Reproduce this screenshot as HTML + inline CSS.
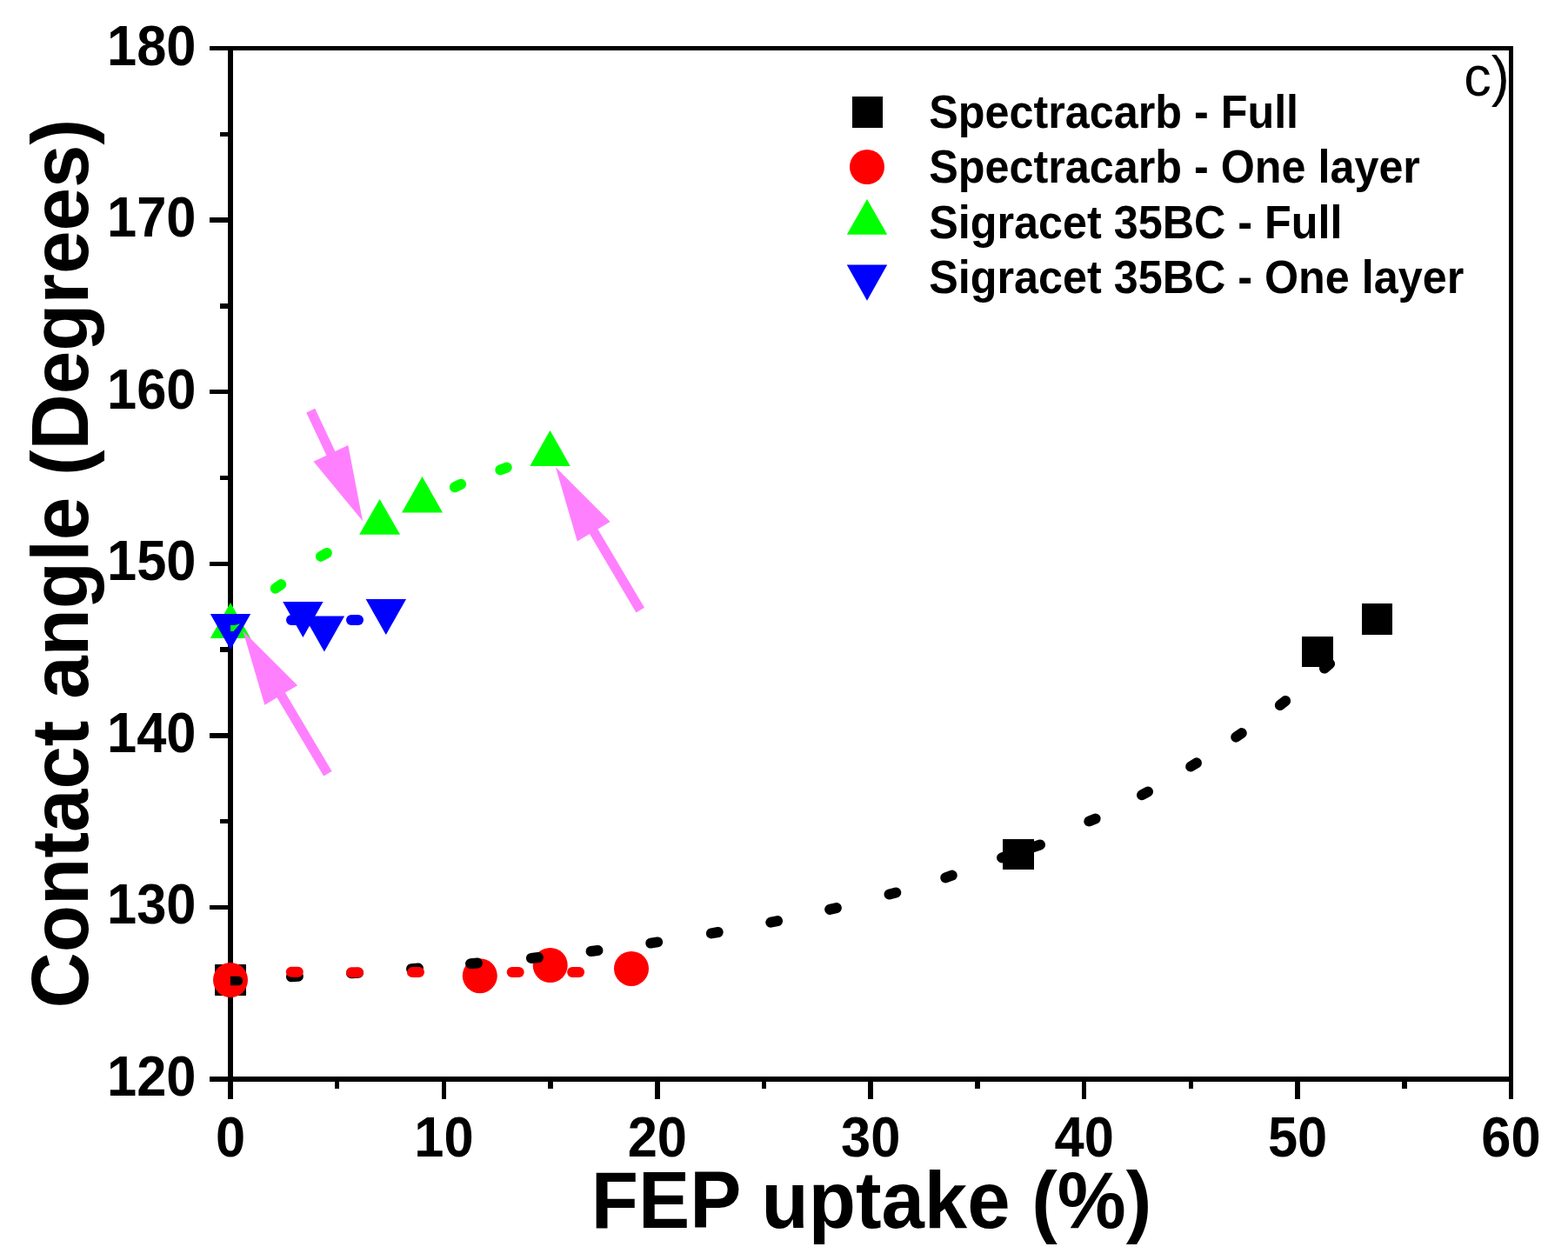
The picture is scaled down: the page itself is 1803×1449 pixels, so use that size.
<!DOCTYPE html><html><head><meta charset="utf-8"><title>Contact angle vs FEP uptake</title><style>html,body{margin:0;padding:0;background:#fff;overflow:hidden;width:1803px;height:1449px;}svg{display:block;}text{font-family:"Liberation Sans",Arial,sans-serif;}</style></head><body>
<svg width="1803" height="1449" viewBox="0 0 1803 1449">
<rect width="1803" height="1449" fill="#fff"/>
<defs><clipPath id="pc"><rect x="265" y="55.5" width="1472.5" height="1185.5"/></clipPath></defs>
<g fill="#000"><rect x="241" y="1238" width="24" height="6"/><rect x="253" y="1139" width="12" height="6"/><rect x="241" y="1041" width="24" height="5"/><rect x="253" y="942" width="12" height="5"/><rect x="241" y="843" width="24" height="6"/><rect x="253" y="744" width="12" height="6"/><rect x="241" y="646" width="24" height="5"/><rect x="253" y="547" width="12" height="5"/><rect x="241" y="448" width="24" height="5"/><rect x="253" y="349" width="12" height="6"/><rect x="241" y="250" width="24" height="6"/><rect x="253" y="152" width="12" height="5"/><rect x="241" y="53" width="24" height="5"/><rect x="262" y="1241" width="6" height="23"/><rect x="385" y="1241" width="5" height="11"/><rect x="508" y="1241" width="5" height="23"/><rect x="630" y="1241" width="6" height="11"/><rect x="753" y="1241" width="6" height="23"/><rect x="876" y="1241" width="5" height="11"/><rect x="998" y="1241" width="6" height="23"/><rect x="1121" y="1241" width="6" height="11"/><rect x="1244" y="1241" width="5" height="23"/><rect x="1367" y="1241" width="5" height="11"/><rect x="1489" y="1241" width="6" height="23"/><rect x="1612" y="1241" width="6" height="11"/><rect x="1735" y="1241" width="5" height="23"/></g>
<g fill="#000"><rect x="262" y="53" width="6" height="1191"/><rect x="1735" y="53" width="5" height="1191"/><rect x="262" y="53" width="1478" height="5"/><rect x="262" y="1238" width="1478" height="6"/></g>
<g font-size="61.4" font-weight="bold" fill="#000"><text transform="translate(225.5 1260.0) scale(1 1.05)" text-anchor="end">120</text><text transform="translate(225.5 1062.4) scale(1 1.05)" text-anchor="end">130</text><text transform="translate(225.5 864.8) scale(1 1.05)" text-anchor="end">140</text><text transform="translate(225.5 667.2) scale(1 1.05)" text-anchor="end">150</text><text transform="translate(225.5 469.7) scale(1 1.05)" text-anchor="end">160</text><text transform="translate(225.5 272.1) scale(1 1.05)" text-anchor="end">170</text><text transform="translate(225.5 74.5) scale(1 1.05)" text-anchor="end">180</text><text transform="translate(265.0 1329.8) scale(1 1.05)" text-anchor="middle">0</text><text transform="translate(510.4 1329.8) scale(1 1.05)" text-anchor="middle">10</text><text transform="translate(755.8 1329.8) scale(1 1.05)" text-anchor="middle">20</text><text transform="translate(1001.2 1329.8) scale(1 1.05)" text-anchor="middle">30</text><text transform="translate(1246.7 1329.8) scale(1 1.05)" text-anchor="middle">40</text><text transform="translate(1492.1 1329.8) scale(1 1.05)" text-anchor="middle">50</text><text transform="translate(1737.5 1329.8) scale(1 1.05)" text-anchor="middle">60</text></g>
<text transform="translate(1002 1411.8) scale(1 1.045)" text-anchor="middle" font-size="88.8" font-weight="bold">FEP uptake (%)</text>
<text transform="translate(100.5 648.2) rotate(-90) scale(1 1.045)" text-anchor="middle" font-size="88.9" font-weight="bold">Contact angle (Degrees)</text>
<text transform="translate(1683.3 110.4) scale(1 1.02)" font-size="63" font-weight="normal">c)</text>
<text transform="translate(1068.3 146.5) scale(1 1.05)" font-size="50.3" font-weight="bold">Spectracarb - Full</text>
<text transform="translate(1068.3 210.3) scale(1 1.05)" font-size="50.3" font-weight="bold">Spectracarb - One layer</text>
<text transform="translate(1068.3 273.5) scale(1 1.05)" font-size="50.3" font-weight="bold">Sigracet 35BC - Full</text>
<text transform="translate(1068.3 337.0) scale(1 1.05)" font-size="50.3" font-weight="bold">Sigracet 35BC - One layer</text>
<g fill="#000"><rect x="980" y="111" width="35" height="36"/></g>
<g fill="#f00"><circle cx="997.00" cy="192.00" r="20"/></g>
<g fill="#0f0"><polygon points="997.00,229.00 1020.20,269.70 973.80,269.70"/></g>
<g fill="#00f"><polygon points="973.80,304.50 1020.20,304.50 997.00,345.80"/></g>
<g fill="#000"><rect x="247" y="1109" width="36" height="36"/><rect x="1153" y="965" width="36" height="35"/><rect x="1497" y="732" width="36" height="35"/><rect x="1566" y="694" width="35" height="36"/></g>
<g fill="#f00"><circle cx="265.00" cy="1127.00" r="20"/><circle cx="551.80" cy="1122.20" r="20"/><circle cx="632.70" cy="1110.00" r="20"/><circle cx="726.00" cy="1113.90" r="20"/></g>
<g fill="#0f0"><polygon points="265.00,693.00 288.20,734.00 241.80,734.00"/><polygon points="436.60,573.90 460.10,614.80 413.10,614.80"/><polygon points="485.50,548.00 509.00,589.60 462.00,589.60"/><polygon points="632.50,494.90 655.70,535.90 609.30,535.90"/></g>
<g fill="#ff80ff"><polygon points="352.23,474.55 375.44,523.76 360.52,530.80 417.10,599.20 400.31,512.03 385.39,519.07 362.17,469.85"/><polygon points="740.98,698.80 687.45,608.40 701.65,599.99 638.90,537.20 663.79,622.41 677.99,614.00 731.52,704.40"/><polygon points="381.63,886.89 327.97,796.62 342.15,788.19 279.30,725.50 304.33,810.67 318.51,802.24 372.17,892.51"/></g>
<g fill="#00f"><polygon points="241.80,705.90 288.20,705.90 265.00,746.90"/><polygon points="325.20,692.00 371.60,692.00 348.40,733.00"/><polygon points="349.70,708.50 396.10,708.50 372.90,749.50"/><polygon points="420.60,689.00 467.00,689.00 443.80,730.00"/></g>
<g stroke="#000" stroke-width="12" stroke-linecap="round" clip-path="url(#pc)"><line x1="334.91" y1="1123.23" x2="342.89" y2="1122.77"/><line x1="404.01" y1="1119.26" x2="411.99" y2="1118.74"/><line x1="473.01" y1="1114.22" x2="480.99" y2="1113.58"/><line x1="541.02" y1="1108.26" x2="548.98" y2="1107.54"/><line x1="610.92" y1="1101.91" x2="618.88" y2="1101.09"/><line x1="679.53" y1="1094.01" x2="687.47" y2="1092.99"/><line x1="748.24" y1="1084.59" x2="756.16" y2="1083.41"/><line x1="817.86" y1="1073.39" x2="825.74" y2="1072.01"/><line x1="886.28" y1="1060.70" x2="894.12" y2="1059.10"/><line x1="954.11" y1="1045.93" x2="961.89" y2="1044.07"/><line x1="1022.55" y1="1028.57" x2="1030.25" y2="1026.43"/><line x1="1087.25" y1="1009.38" x2="1094.75" y2="1006.62"/><line x1="1252.32" y1="944.56" x2="1259.68" y2="941.44"/><line x1="1312.99" y1="914.32" x2="1320.01" y2="910.48"/><line x1="1369.20" y1="881.51" x2="1376.00" y2="877.29"/><line x1="1421.21" y1="847.68" x2="1427.79" y2="843.12"/><line x1="1471.85" y1="810.96" x2="1478.15" y2="806.04"/><line x1="1522.93" y1="768.56" x2="1529.07" y2="763.44"/></g>
<g stroke="#000" stroke-width="10.5" stroke-linecap="round" clip-path="url(#pc)"><line x1="263" y1="1128" x2="274" y2="1128"/></g>
<g stroke="#000" stroke-width="12" stroke-linecap="round"><line x1="1152" y1="986.4" x2="1196" y2="971.5"/></g>
<g stroke="#f00" stroke-width="12" stroke-linecap="round" clip-path="url(#pc)"><line x1="334.80" y1="1117.77" x2="342.80" y2="1117.83"/><line x1="404.00" y1="1118.29" x2="412.00" y2="1118.31"/><line x1="474.00" y1="1118.11" x2="482.00" y2="1118.09"/><line x1="588.70" y1="1118.00" x2="596.70" y2="1118.00"/><line x1="658.10" y1="1118.00" x2="666.10" y2="1118.00"/></g>
<g stroke="#0f0" stroke-width="12" stroke-linecap="round" clip-path="url(#pc)"><line x1="316.72" y1="676.69" x2="323.28" y2="672.11"/><line x1="368.91" y1="639.86" x2="375.89" y2="635.94"/><line x1="522.89" y1="560.23" x2="530.11" y2="556.77"/><line x1="575.25" y1="540.39" x2="582.75" y2="537.61"/></g>
<polygon fill="#0f0" points="265,719 269.5,719 276,717.3 268.5,726 265,726"/>
<g stroke="#00f" stroke-width="12" stroke-linecap="round" clip-path="url(#pc)"><line x1="335.00" y1="713.00" x2="343.00" y2="713.00"/><line x1="404.00" y1="713.00" x2="412.00" y2="713.00"/></g>
</svg></body></html>
